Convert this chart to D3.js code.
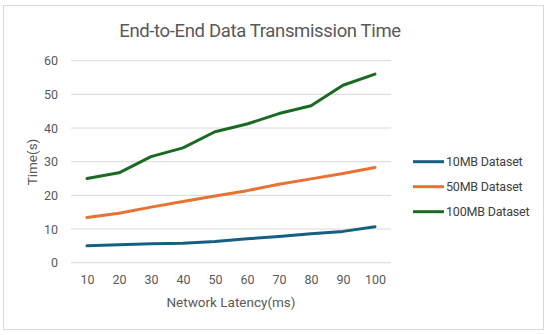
<!DOCTYPE html>
<html>
<head>
<meta charset="utf-8">
<script src="https://cdn.jsdelivr.net/npm/d3@7"></script>
<style>
  body { margin: 0; background: #fff; }
  svg text { font-family: Roboto, "Noto Sans", "Liberation Sans", sans-serif; }
</style>
</head>
<body>
<div id="chart"></div>
<script>
var latencies = [10, 20, 30, 40, 50, 60, 70, 80, 90, 100];
var seriesNames = ["10MB Dataset", "50MB Dataset", "100MB Dataset"];
var seriesColors = ["#156082", "#e97132", "#196b24"];
var data10 = [5.0, 5.3, 5.6, 5.8, 6.3, 7.1, 7.8, 8.6, 9.3, 10.7];
var data50 = [13.4, 14.7, 16.5, 18.2, 19.8, 21.4, 23.3, 24.9, 26.5, 28.3];
var data100 = [25.0, 26.7, 31.5, 34.1, 38.9, 41.2, 44.3, 46.6, 52.7, 56.0];
var yTicks = [0, 10, 20, 30, 40, 50, 60];

var series = [data10, data50, data100];

(function () {
    var width = 550, height = 335;
    var plotLeft = 71, plotRight = 391, plotTop = 60.7, plotBottom = 262.7;

    var svg = d3.select("#chart").append("svg")
        .attr("width", width).attr("height", height);

    svg.append("rect")
        .attr("x", 3.5).attr("y", 5.5)
        .attr("width", 540).attr("height", 324)
        .attr("fill", "#fff").attr("stroke", "#d9d9d9");

    var x = d3.scalePoint().domain(latencies).range([plotLeft, plotRight]).padding(0.5);
    var y = d3.scaleLinear().domain([0, 60]).range([plotBottom, plotTop]);

    // gridlines
    svg.append("g").selectAll("line")
        .data(yTicks)
        .enter()
        .append("line")
        .attr("x1", plotLeft).attr("x2", plotRight)
        .attr("y1", function (d) { return y(d); })
        .attr("y2", function (d) { return y(d); })
        .attr("stroke", "#d9d9d9").attr("stroke-width", 1);

    // y axis
    var yAxis = svg.append("g")
        .attr("transform", "translate(" + plotLeft + ",0)")
        .call(d3.axisLeft(y).tickValues(yTicks).tickSize(0).tickPadding(13));
    yAxis.select(".domain").remove();
    yAxis.selectAll("text").attr("fill", "#595959").style("font-size", "12.5px");

    // x axis
    var xAxis = svg.append("g")
        .attr("transform", "translate(0," + plotBottom + ")")
        .call(d3.axisBottom(x).tickSize(0).tickPadding(12));
    xAxis.select(".domain").remove();
    xAxis.selectAll("text").attr("fill", "#595959").style("font-size", "12.5px");

    // lines
    var line = d3.line()
        .x(function (d, i) { return x(latencies[i]); })
        .y(function (d) { return y(d); });

    svg.append("g").selectAll("path")
        .data(series)
        .enter()
        .append("path")
        .attr("d", line)
        .attr("fill", "none")
        .attr("stroke", function (d, i) { return seriesColors[i]; })
        .attr("stroke-width", 3)
        .attr("stroke-linejoin", "round")
        .attr("stroke-linecap", "round");

    // title
    svg.append("text")
        .attr("x", 260).attr("y", 37)
        .attr("text-anchor", "middle")
        .attr("fill", "#595959")
        .style("font-size", "18.5px")
        .style("letter-spacing", "-0.35px")
        .text("End-to-End Data Transmission Time");

    // axis titles
    svg.append("text")
        .attr("x", 231).attr("y", 307)
        .attr("text-anchor", "middle")
        .attr("fill", "#595959")
        .style("font-size", "13.5px")
        .text("Network Latency(ms)");

    svg.append("text")
        .attr("transform", "translate(37,162) rotate(-90)")
        .attr("text-anchor", "middle")
        .attr("fill", "#595959")
        .style("font-size", "13.5px")
        .text("Time(s)");

    // legend
    var legend = svg.append("g").selectAll("g")
        .data(seriesNames)
        .enter()
        .append("g")
        .attr("transform", function (d, i) { return "translate(413," + (161.7 + i * 25) + ")"; });

    legend.append("line")
        .attr("x1", 0).attr("x2", 31)
        .attr("stroke", function (d, i) { return seriesColors[i]; })
        .attr("stroke-width", 3);

    legend.append("text")
        .attr("x", 33).attr("y", 4.5)
        .attr("fill", "#404040")
        .style("font-size", "12.5px")
        .style("letter-spacing", "-0.2px")
        .text(function (d) { return d; });
})();
</script>
</body>
</html>
